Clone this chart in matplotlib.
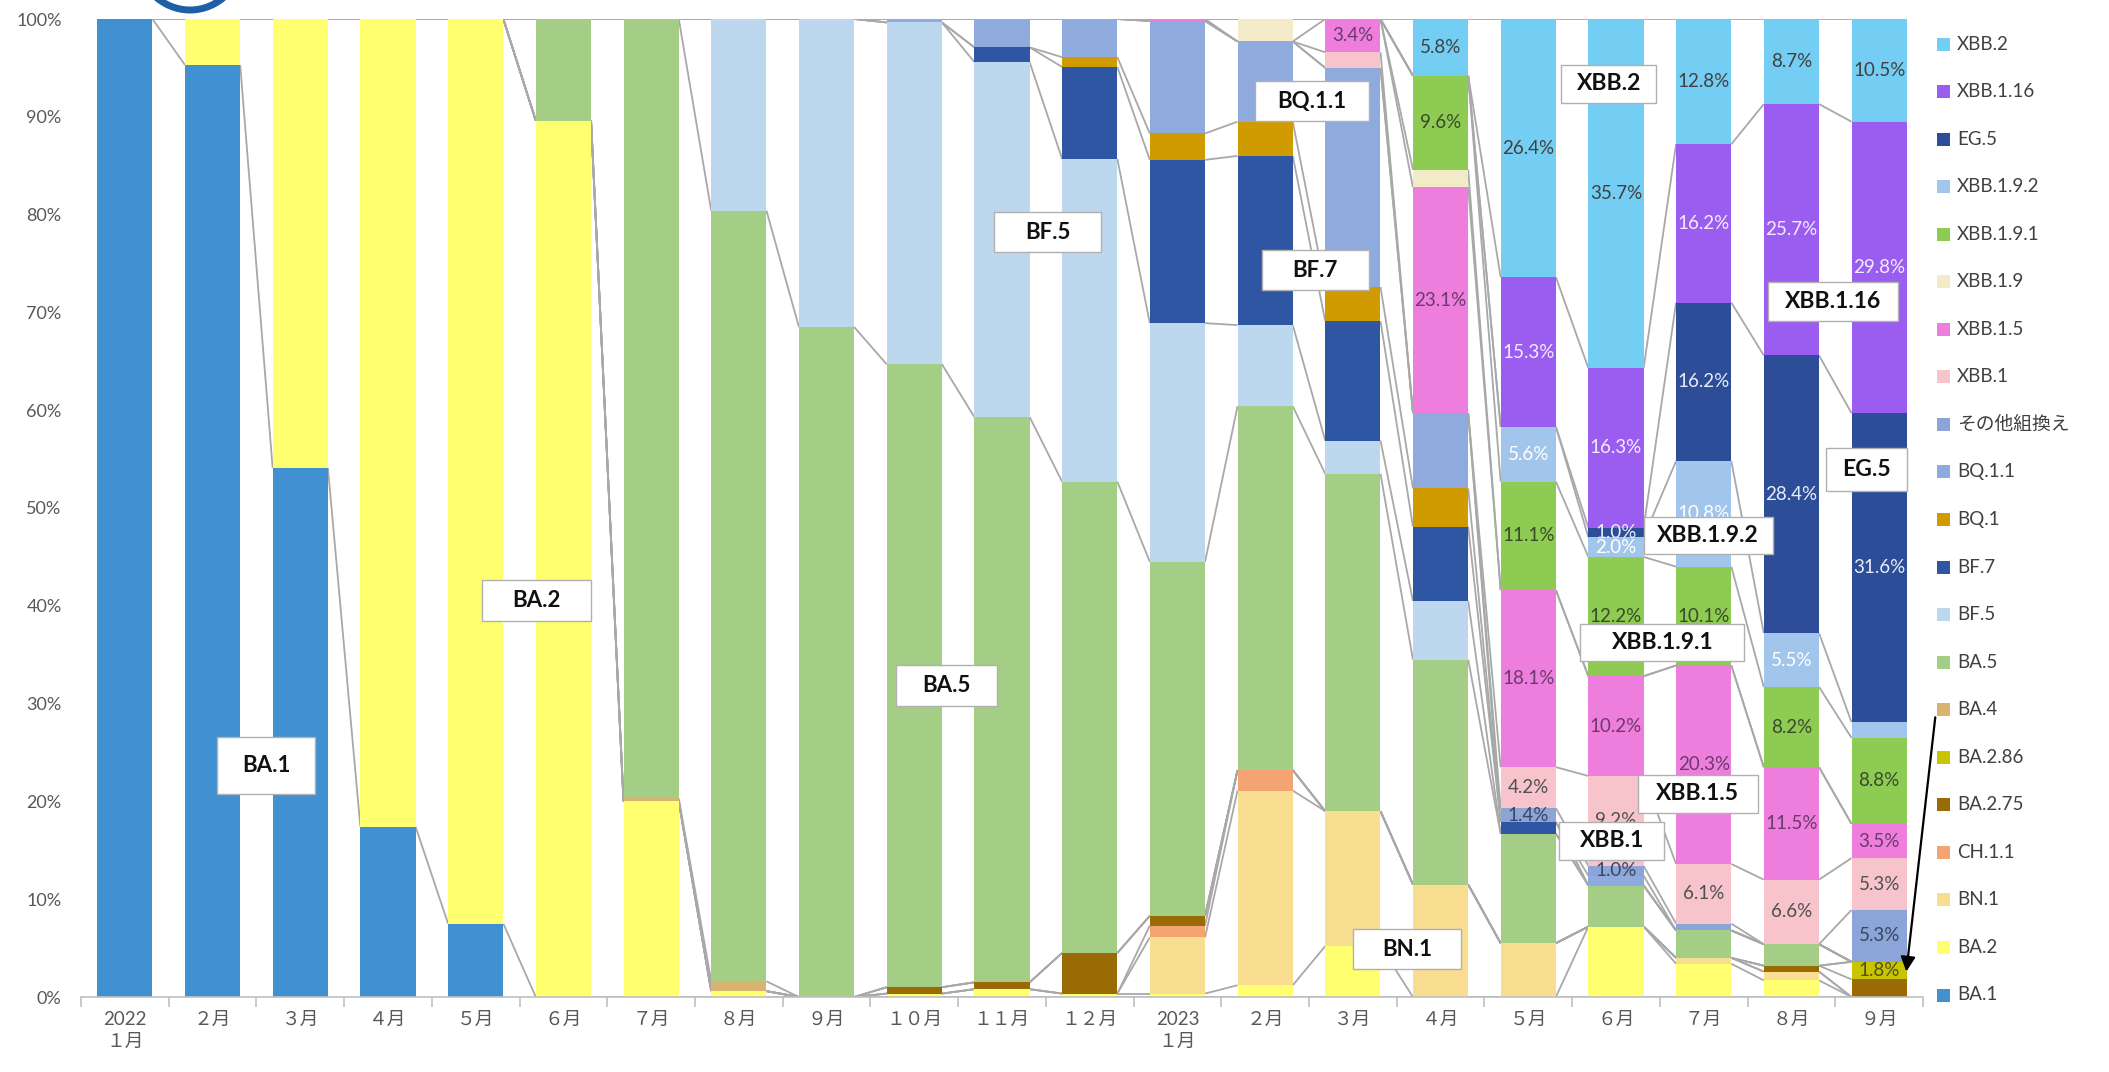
import matplotlib
matplotlib.use("Agg")
import matplotlib.pyplot as plt
from matplotlib.patches import Rectangle, Arc
import numpy as np

# ---- data: share of each lineage per month (%) ----
months = ["2022\n１月", "２月", "３月", "４月", "５月", "６月", "７月", "８月", "９月",
          "１０月", "１１月", "１２月", "2023\n１月", "２月", "３月", "４月", "５月",
          "６月", "７月", "８月", "９月"]

ba1 = [100, 95.3, 54.1, 17.4, 7.5, 0, 0, 0, 0, 0, 0, 0, 0, 0, 0, 0, 0, 0, 0, 0, 0]
ba2 = [0, 4.7, 45.9, 82.6, 92.5, 89.6, 20.0, 0.6, 0, 0.35, 0.8, 0.35, 0.35, 1.2, 5.2, 0, 0, 7.2, 3.4, 1.7, 0]
bn1 = [0, 0, 0, 0, 0, 0, 0, 0, 0, 0, 0, 0, 5.75, 19.9, 13.8, 11.5, 5.5, 0, 0.6, 0.9, 0]
ch11 = [0, 0, 0, 0, 0, 0, 0, 0, 0, 0, 0, 0, 1.2, 2.1, 0, 0, 0, 0, 0, 0, 0]
ba275 = [0, 0, 0, 0, 0, 0, 0, 0, 0, 0.65, 0.7, 4.15, 1.0, 0, 0, 0, 0, 0, 0, 0.6, 1.8]
ba286 = [0, 0, 0, 0, 0, 0, 0, 0, 0, 0, 0, 0, 0, 0, 0, 0, 0, 0, 0, 0, 1.8]
ba4 = [0, 0, 0, 0, 0, 0, 0.3, 1.0, 0, 0, 0, 0, 0, 0, 0, 0, 0, 0, 0, 0, 0]
ba5 = [0, 0, 0, 0, 0, 10.4, 79.7, 78.8, 68.5, 63.7, 57.8, 48.2, 36.2, 37.2, 34.5, 23.0, 11.2, 4.2, 2.8, 2.2, 0]
bf5 = [0, 0, 0, 0, 0, 0, 0, 19.6, 31.5, 34.95, 36.3, 33.0, 24.4, 8.3, 3.4, 6.0, 0, 0, 0, 0, 0]
bf7 = [0, 0, 0, 0, 0, 0, 0, 0, 0, 0, 1.5, 9.4, 16.7, 17.3, 12.2, 7.6, 1.2, 0, 0, 0, 0]
bq1 = [0, 0, 0, 0, 0, 0, 0, 0, 0, 0, 0, 1.0, 2.7, 3.5, 3.5, 3.9, 0, 0, 0, 0, 0]
bq11 = [0, 0, 0, 0, 0, 0, 0, 0, 0, 0.35, 2.9, 3.9, 11.5, 8.2, 22.4, 7.7, 0, 1.0, 0, 0, 0]
other_rec = [0, 0, 0, 0, 0, 0, 0, 0, 0, 0, 0, 0, 0, 0, 0, 0, 1.4, 1.0, 0.7, 0, 5.3]
xbb1 = [0, 0, 0, 0, 0, 0, 0, 0, 0, 0, 0, 0, 0, 0, 1.6, 0, 4.2, 9.2, 6.1, 6.6, 5.3]
xbb15 = [0, 0, 0, 0, 0, 0, 0, 0, 0, 0, 0, 0, 0.2, 0, 3.4, 23.1, 18.1, 10.2, 20.3, 11.5, 3.5]
xbb19 = [0, 0, 0, 0, 0, 0, 0, 0, 0, 0, 0, 0, 0, 2.3, 0, 1.8, 0, 0, 0, 0, 0]
xbb191 = [0, 0, 0, 0, 0, 0, 0, 0, 0, 0, 0, 0, 0, 0, 0, 9.6, 11.1, 12.2, 10.1, 8.2, 8.8]
xbb192 = [0, 0, 0, 0, 0, 0, 0, 0, 0, 0, 0, 0, 0, 0, 0, 0, 5.6, 2.0, 10.8, 5.5, 1.6]
eg5 = [0, 0, 0, 0, 0, 0, 0, 0, 0, 0, 0, 0, 0, 0, 0, 0, 0, 1.0, 16.2, 28.4, 31.6]
xbb116 = [0, 0, 0, 0, 0, 0, 0, 0, 0, 0, 0, 0, 0, 0, 0, 0, 15.3, 16.3, 16.2, 25.7, 29.8]
xbb2 = [0, 0, 0, 0, 0, 0, 0, 0, 0, 0, 0, 0, 0, 0, 0, 5.8, 26.4, 35.7, 12.8, 8.7, 10.5]

# stacking order, bottom to top
series = [
    ("BA.1", ba1, "#4191D2"),
    ("BA.2", ba2, "#FFFF70"),
    ("BN.1", bn1, "#F9DE92"),
    ("CH.1.1", ch11, "#F4A472"),
    ("BA.2.75", ba275, "#9A6A04"),
    ("BA.2.86", ba286, "#C9C400"),
    ("BA.4", ba4, "#D8B470"),
    ("BA.5", ba5, "#A4CD86"),
    ("BF.5", bf5, "#BDD7EE"),
    ("BF.7", bf7, "#2F56A3"),
    ("BQ.1", bq1, "#CF9B00"),
    ("BQ.1.1", bq11, "#8FAADC"),
    ("その他組換え", other_rec, "#8BA5D9"),
    ("XBB.1", xbb1, "#F8C4CB"),
    ("XBB.1.5", xbb15, "#EE7EDD"),
    ("XBB.1.9", xbb19, "#F3EBC8"),
    ("XBB.1.9.1", xbb191, "#8DCB52"),
    ("XBB.1.9.2", xbb192, "#A2C5EB"),
    ("EG.5", eg5, "#2E4D98"),
    ("XBB.1.16", xbb116, "#9B5DEF"),
    ("XBB.2", xbb2, "#74CDF3"),
]

# segments carrying a value label: (lineage, month index)
labelled = [
    ("XBB.1.5", 14),
    ("XBB.2", 15), ("XBB.1.9.1", 15), ("XBB.1.5", 15),
    ("XBB.2", 16), ("XBB.1.16", 16), ("XBB.1.9.2", 16), ("XBB.1.9.1", 16),
    ("XBB.1.5", 16), ("XBB.1", 16), ("その他組換え", 16),
    ("XBB.2", 17), ("XBB.1.16", 17), ("EG.5", 17), ("XBB.1.9.2", 17),
    ("XBB.1.9.1", 17), ("XBB.1.5", 17), ("XBB.1", 17), ("その他組換え", 17),
    ("XBB.2", 18), ("XBB.1.16", 18), ("EG.5", 18), ("XBB.1.9.2", 18),
    ("XBB.1.9.1", 18), ("XBB.1.5", 18), ("XBB.1", 18),
    ("XBB.2", 19), ("XBB.1.16", 19), ("EG.5", 19), ("XBB.1.9.2", 19),
    ("XBB.1.9.1", 19), ("XBB.1.5", 19), ("XBB.1", 19),
    ("XBB.2", 20), ("XBB.1.16", 20), ("EG.5", 20),
    ("XBB.1.9.1", 20), ("XBB.1.5", 20), ("XBB.1", 20), ("その他組換え", 20),
    ("BA.2.86", 20),
]
label_color = {
    "XBB.2": "#404040", "XBB.1.16": "#F3ECFF", "EG.5": "#E8EEF8",
    "XBB.1.9.2": "#FFFFFF", "XBB.1.9.1": "#3A4A2A", "XBB.1.5": "#6A3A6A",
    "XBB.1": "#505050", "その他組換え": "#3A4660", "BA.2.86": "#505020",
}

# lineage callouts: text, anchor (category units, %), box size in px, font size
callouts = [
    ("BA.1", 1.61, 23.7, 98, 57, 16),
    ("BA.2", 4.69, 40.5, 109, 41, 16),
    ("BA.5", 9.37, 31.8, 101, 41, 16),
    ("BF.5", 10.52, 78.2, 107, 40, 16),
    ("BQ.1.1", 13.53, 91.6, 114, 40, 16),
    ("BF.7", 13.57, 74.3, 107, 40, 16),
    ("BN.1", 14.62, 4.9, 108, 40, 16),
    ("XBB.2", 16.92, 93.4, 95, 38, 16.5),
    ("XBB.1.9.2", 18.05, 47.2, 129, 37, 16.5),
    ("XBB.1.9.1", 17.53, 36.2, 164, 37, 16.5),
    ("XBB.1.5", 17.93, 20.8, 120, 38, 16.5),
    ("XBB.1", 16.95, 16.0, 105, 38, 16.5),
    ("XBB.1.16", 19.47, 71.1, 130, 39, 16.5),
    ("EG.5", 19.86, 53.9, 81, 43, 16.5),
]

FONT = ["Lato", "Noto Sans CJK JP", "DejaVu Sans"]
plt.rcParams["font.family"] = FONT

W, H = 2109, 1072
fig = plt.figure(figsize=(W / 100, H / 100), dpi=100)
fig.patch.set_facecolor("white")
ax = fig.add_axes([81 / W, 1 - 997 / H, (1923 - 81) / W, (997 - 19) / H])

x = np.arange(len(months))
bw = 0.63
cum = np.zeros(len(months))
tops = []
for name, vals, col in series:
    v = np.array(vals, dtype=float)
    ax.bar(x, v, bottom=cum, width=bw, color=col, linewidth=0, zorder=3)
    cum = cum + v
    tops.append(cum.copy())

# series lines joining the top of each lineage between neighbouring bars
for t in tops:
    for i in range(len(months) - 1):
        ax.plot([i + bw / 2, i + 1 - bw / 2], [t[i], t[i + 1]],
                color="#A8A8A8", lw=1.3, zorder=2, solid_capstyle="butt")

# value labels
names = [s[0] for s in series]
for name, i in labelled:
    k = names.index(name)
    v = series[k][1][i]
    base = tops[k][i] - v
    ax.text(i, base + v / 2, f"{v:.1f}%", ha="center", va="center",
            fontsize=13.5, color=label_color[name], zorder=6)

ax.set_xlim(-0.5, len(months) - 0.5)
ax.set_ylim(0, 100)
for sp in ["top", "right", "left"]:
    ax.spines[sp].set_visible(False)
ax.spines["bottom"].set_color("#C0C0C0")
ax.spines["bottom"].set_linewidth(1.2)
ax.spines["bottom"].set_zorder(4)

ax.set_yticks(np.arange(0, 101, 10))
ax.set_yticklabels([f"{v}%" for v in range(0, 101, 10)], fontsize=13, color="#595959")
ax.tick_params(axis="y", length=0, pad=14)
ax.set_xticks(x)
ax.set_xticklabels(months, fontsize=13.5, color="#595959", linespacing=1.35)
ax.set_xticks(np.arange(-0.5, len(months), 1), minor=True)
ax.tick_params(axis="x", which="major", length=0, pad=10)
ax.tick_params(axis="x", which="minor", length=7, color="#C0C0C0", width=1.2)

# arrow from the BA.2.86 legend entry to its segment
ax.annotate("", xy=(20.31, 2.6), xytext=(20.64, 28.6),
            arrowprops=dict(arrowstyle="-|>", color="black", lw=1.6,
                            mutation_scale=22, shrinkA=0, shrinkB=0),
            annotation_clip=False, zorder=8)

# overlay in pixel coordinates for callouts and legend
ov = fig.add_axes([0, 0, 1, 1], zorder=10)
ov.set_xlim(0, W)
ov.set_ylim(H, 0)
ov.axis("off")
ov.patch.set_alpha(0)

fig.canvas.draw()
for txt, cx, cy, bwpx, bhpx, fs in callouts:
    dx, dy = ax.transData.transform((cx, cy))
    px, py = dx, H - dy
    ov.add_patch(Rectangle((px - bwpx / 2, py - bhpx / 2), bwpx, bhpx,
                           facecolor="white", edgecolor="#B0B0B0", lw=1.0, zorder=7))
    ov.text(px, py, txt, ha="center", va="center", fontsize=fs,
            fontweight="bold", color="#111111", zorder=8)

# legend, top entry is the top of the stack
y0, dy = 44, (995 - 44) / 20
for k, (name, vals, col) in enumerate(reversed(series)):
    yy = y0 + k * dy
    ov.add_patch(Rectangle((1937, yy - 6.5), 13, 13, facecolor=col, edgecolor="none"))
    ov.text(1957, yy, name, ha="left", va="center", fontsize=13.5, color="#404040")

# partial logo ring above the plot (y axis of the overlay runs downwards)
ov.add_patch(Arc((190, -50), 110, 120, theta1=50, theta2=130, color="#1F5FA8", lw=5,
                 clip_on=False))

fig.savefig("out.png", dpi=100, facecolor="white")
